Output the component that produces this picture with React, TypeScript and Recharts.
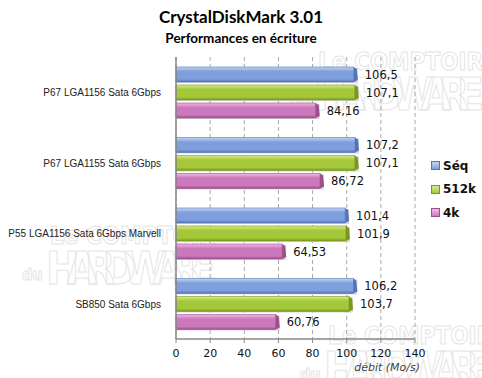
import React from 'react';
import { BarChart, Bar, XAxis, YAxis, CartesianGrid, LabelList } from 'recharts';

const categories = [
  'P67 LGA1156 Sata 6Gbps',
  'P67 LGA1155 Sata 6Gbps',
  'P55 LGA1156 Sata 6Gbps Marvell',
  'SB850 Sata 6Gbps',
];
const seqValues = [106.5, 107.2, 101.4, 106.2];
const k512Values = [107.1, 107.1, 101.9, 103.7];
const k4Values = [84.16, 86.72, 64.53, 60.76];
const xTicks = [0, 20, 40, 60, 80, 100, 120, 140];

const seriesInfo = [
  { key: 'seq', name: 'Séq', light: '#c4d6f4', mid: '#7f9fdc', dark: '#5574b8' },
  { key: 'k512', name: '512k', light: '#d6ec8a', mid: '#a5c83a', dark: '#7a9820' },
  { key: 'k4', name: '4k', light: '#f4b8e6', mid: '#cc78bc', dark: '#9c4e8c' },
];

const data = categories.map((name, i) => ({
  name,
  seq: seqValues[i],
  k512: k512Values[i],
  k4: k4Values[i],
}));

const fmt = (v: any) => String(v).replace('.', ',');

const makeShape = (s: typeof seriesInfo[number]) => (props: any) => {
  const { x, y, width, height } = props;
  if (!width || width <= 0) return null;
  const bevel = 4;
  return (
    <g>
      <rect x={x} y={y + 1} width={width} height={height} fill="#d8d8d8" />
      <rect x={x} y={y} width={width - bevel} height={height} fill={`url(#grad-${s.key})`} />
      <polygon
        points={`${x + width - bevel},${y} ${x + width - 1},${y + 2} ${x + width},${y + height - 2} ${x + width - bevel},${y + height}`}
        fill={s.dark}
      />
      <rect x={x} y={y} width={width - bevel} height={height} fill="none" stroke={s.dark} strokeWidth={0.6} />
    </g>
  );
};

const CategoryTick = (props: any) => {
  const { x, y, payload } = props;
  return (
    <text x={x} y={y} dy={4} textAnchor="end" fill="#222" fontSize={10} fontFamily='"Liberation Sans", sans-serif'>
      {payload.value}
    </text>
  );
};

const Watermark = ({ x, y }: { x: number; y: number }) => (
  <g opacity={0.4} fontFamily='"DejaVu Sans Condensed", "DejaVu Sans", sans-serif' fill="none" stroke="#c0c0c0" strokeWidth={1}>
    <text x={x + 28} y={y + 22} fontSize={24} fontWeight="bold">Le COMPTOIR</text>
    <text x={x} y={y + 58} fontSize={16} fontWeight="bold">du</text>
    <text x={x + 24} y={y + 62} fontSize={44} fontWeight="bold" textLength={170}>HARDWARE</text>
  </g>
);

export default function App() {
  return (
    <div style={{ position: 'absolute', left: 0, top: 0, width: 482, height: 378, background: '#fff', overflow: 'hidden' }}>
      <svg width={482} height={378} style={{ position: 'absolute', left: 0, top: 0 }}>
        <Watermark x={290} y={48} />
        <Watermark x={22} y={222} />
        <Watermark x={300} y={322} />
      </svg>
      <div
        style={{
          position: 'absolute',
          left: 0,
          top: 6,
          width: 482,
          textAlign: 'center',
          fontFamily: 'Lato, "Open Sans", sans-serif',
          fontWeight: 'bold',
          color: '#000',
        }}
      >
        <div style={{ fontSize: 17, lineHeight: '22px' }}>CrystalDiskMark 3.01</div>
        <div style={{ fontSize: 13.5, lineHeight: '20px' }}>Performances en écriture</div>
      </div>
      <div style={{ position: 'absolute', left: 0, top: 0 }}>
        <BarChart
          width={482}
          height={378}
          data={data}
          layout="vertical"
          margin={{ top: 57, right: 67, bottom: 19, left: 0 }}
          barSize={15}
          barGap={3}
          barCategoryGap="14%"
        >
          <defs>
            {seriesInfo.map((s) => (
              <linearGradient key={s.key} id={`grad-${s.key}`} x1="0" y1="0" x2="0" y2="1">
                <stop offset="0%" stopColor={s.light} />
                <stop offset="30%" stopColor={s.mid} />
                <stop offset="80%" stopColor={s.mid} />
                <stop offset="100%" stopColor={s.dark} />
              </linearGradient>
            ))}
          </defs>
          <CartesianGrid horizontal={false} stroke="#a8a8a8" strokeDasharray="4 3" />
          <XAxis
            type="number"
            domain={[0, 140]}
            ticks={xTicks}
            interval={0}
            height={20}
            axisLine={{ stroke: '#888', strokeWidth: 1.5 }}
            tickLine={{ stroke: '#888' }}
            tickSize={4}
            tickMargin={6}
            tick={{ fill: '#111', fontSize: 11, fontFamily: '"DejaVu Sans", sans-serif' }}
          />
          <YAxis
            type="category"
            dataKey="name"
            width={176}
            axisLine={{ stroke: '#888', strokeWidth: 1.5 }}
            tickLine={false}
            tickMargin={9}
            tick={<CategoryTick />}
          />
          {seriesInfo.map((s) => (
            <Bar
              key={s.key}
              dataKey={s.key}
              name={s.name}
              fill={s.mid}
              shape={makeShape(s)}
              isAnimationActive={false}
            >
              <LabelList
                dataKey={s.key}
                position="right"
                offset={7}
                formatter={fmt}
                style={{ fill: '#111', fontSize: 11.5, fontFamily: '"DejaVu Sans", sans-serif' }}
              />
            </Bar>
          ))}
        </BarChart>
      </div>
      <div
        style={{
          position: 'absolute',
          left: 431,
          top: 154,
          fontFamily: '"DejaVu Sans", sans-serif',
          fontWeight: 'bold',
          fontSize: 12,
          color: '#111',
        }}
      >
        {seriesInfo.map((s) => (
          <div key={s.key} style={{ display: 'flex', alignItems: 'center', height: 23.5 }}>
            <span
              style={{
                display: 'inline-block',
                width: 7,
                height: 7,
                marginRight: 3,
                background: `linear-gradient(${s.light}, ${s.mid})`,
                border: `1px solid ${s.dark}`,
              }}
            />
            {s.name}
          </div>
        ))}
      </div>
      <div
        style={{
          position: 'absolute',
          left: 330,
          top: 361,
          width: 90,
          textAlign: 'right',
          fontStyle: 'italic',
          fontSize: 11,
          fontFamily: '"DejaVu Sans", sans-serif',
          color: '#444',
        }}
      >
        débit (Mo/s)
      </div>
    </div>
  );
}
